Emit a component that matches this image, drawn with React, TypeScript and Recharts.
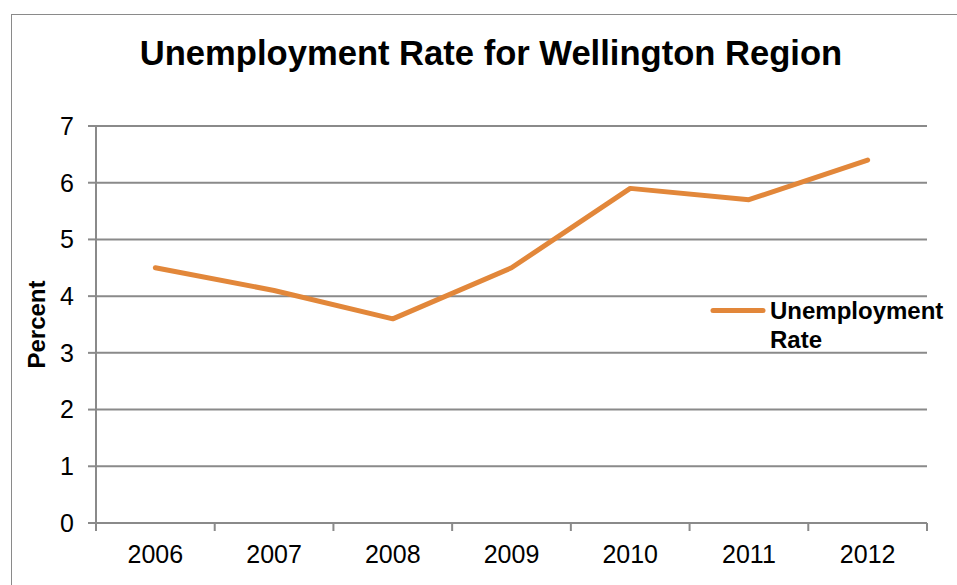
import React from "react";
import {
  LineChart,
  Line,
  XAxis,
  YAxis,
  CartesianGrid,
  Legend,
} from "recharts";

const years = ["2006", "2007", "2008", "2009", "2010", "2011", "2012"];
const rates = [4.5, 4.1, 3.6, 4.5, 5.9, 5.7, 6.4];
const yTicks = [0, 1, 2, 3, 4, 5, 6, 7];
const seriesName = "Unemployment Rate";

const data = years.map((year, i) => ({ idx: i, year, rate: rates[i] }));
// category boundaries, where the x-axis tick marks sit
const boundaries = [...years.map((_, i) => i - 0.5), years.length - 0.5];
const centers = years.map((_, i) => i);

const FONT = '"Liberation Sans", Arial, Helvetica, sans-serif';
const GRID = "#8a8a8a";
const GRID_W = 2;
const ORANGE = "#E2873A";

const LegendBox = () => (
  <div style={{ display: "flex", alignItems: "flex-start", fontFamily: FONT }}>
    <svg width={56} height={29} style={{ flex: "none" }}>
      <line x1={3} y1={14.5} x2={53} y2={14.5} stroke={ORANGE} strokeWidth={5} strokeLinecap="round" />
    </svg>
    <div style={{ width: 180, fontSize: 24, fontWeight: "bold", lineHeight: "29px", color: "#000", marginLeft: 4 }}>
      {seriesName}
    </div>
  </div>
);

const App: React.FC = () => {
  return (
    <div style={{ position: "absolute", left: 0, top: 0, width: 957, height: 585, background: "#fff", overflow: "hidden", fontFamily: FONT }}>
      {/* chart border (continues past the right/bottom edge) */}
      <div style={{ position: "absolute", left: 11, top: 14, width: 1000, height: 1000, border: "1.5px solid #8a8a8a", boxSizing: "border-box" }} />
      <div
        style={{
          position: "absolute",
          left: 11,
          top: 33,
          width: 960,
          textAlign: "center",
          fontSize: 34.6,
          fontWeight: "bold",
          color: "#000",
          lineHeight: "40px",
        }}
      >
        Unemployment Rate for Wellington Region
      </div>
      <div style={{ position: "absolute", left: 0, top: 0 }}>
        <LineChart width={957} height={585} data={data} margin={{ top: 126, right: 30, bottom: 60, left: 0 }}>
          <CartesianGrid vertical={false} stroke={GRID} strokeWidth={GRID_W} />
          <XAxis
            dataKey="idx"
            type="number"
            domain={[-0.5, years.length - 0.5]}
            ticks={boundaries}
            tickFormatter={() => ""}
            height={1}
            tickSize={8}
            axisLine={{ stroke: GRID, strokeWidth: GRID_W }}
            tickLine={{ stroke: GRID, strokeWidth: GRID_W }}
            allowDataOverflow
          />
          <XAxis
            xAxisId="labels"
            dataKey="idx"
            type="number"
            domain={[-0.5, years.length - 0.5]}
            ticks={centers}
            tickFormatter={(v: number) => years[v] ?? ""}
            height={1}
            axisLine={false}
            tickLine={false}
            tickSize={0}
            tickMargin={21}
            tick={{ fontSize: 25, fill: "#000", fontFamily: FONT }}
            allowDataOverflow
          />
          <YAxis
            width={96}
            domain={[0, 7]}
            ticks={yTicks}
            interval={0}
            tickSize={8}
            tickMargin={14}
            axisLine={{ stroke: GRID, strokeWidth: GRID_W }}
            tickLine={{ stroke: GRID, strokeWidth: GRID_W }}
            tick={{ fontSize: 25, fill: "#000", fontFamily: FONT }}
            label={{
              value: "Percent",
              angle: -90,
              position: "insideLeft",
              offset: 36,
              style: { textAnchor: "middle", fontSize: 24, fontWeight: "bold", fill: "#000", fontFamily: FONT },
            }}
          />
          <Legend
            layout="vertical"
            align="center"
            verticalAlign="middle"
            content={<LegendBox />}
            wrapperStyle={{ left: 710, top: 296, width: 245 }}
          />
          <Line
            dataKey="rate"
            name={seriesName}
            type="linear"
            stroke={ORANGE}
            strokeWidth={5}
            dot={false}
            strokeLinejoin="round"
            strokeLinecap="round"
            isAnimationActive={false}
          />
        </LineChart>
      </div>
    </div>
  );
};

export default App;
